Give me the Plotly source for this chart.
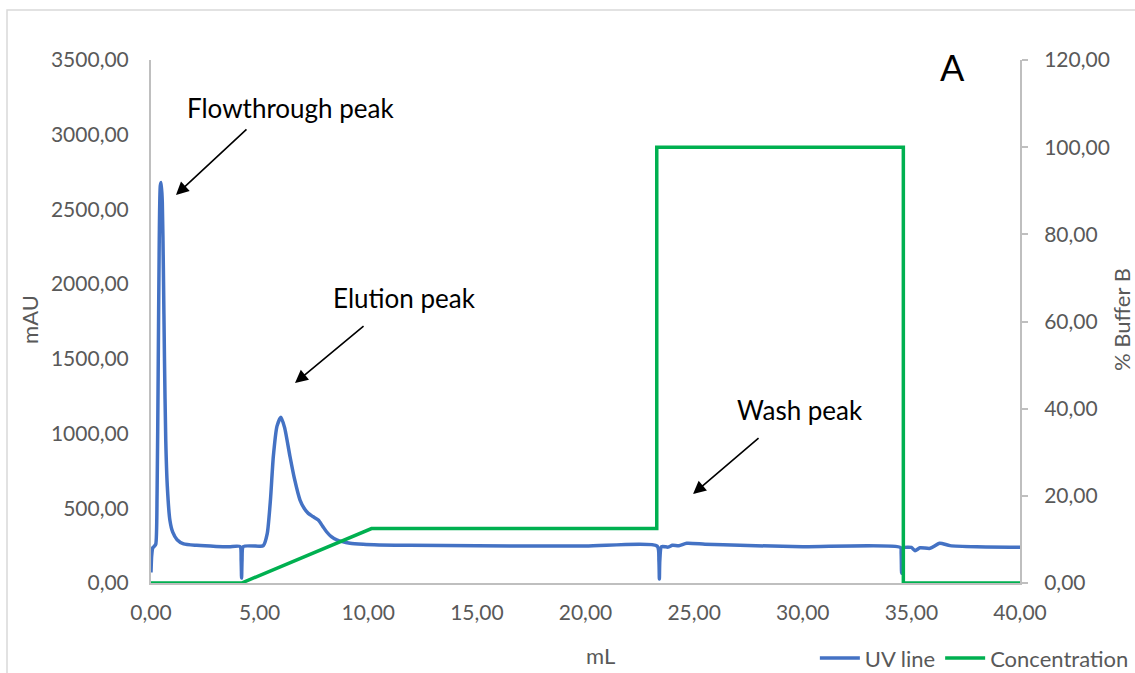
import plotly.graph_objects as go

# UV trace (mL, mAU)
uv_x = [0.0, 0.03, 0.08, 0.15, 0.22, 0.28, 0.33, 0.38, 0.43, 0.47, 0.52, 0.57, 0.62, 0.68, 0.75, 0.87,
        1.0, 1.2, 1.5, 2.1, 3.0, 3.6, 4.1, 4.15, 4.17, 4.19, 4.25, 5.0, 5.17, 5.35, 5.5, 5.63, 5.8,
        5.98, 6.15, 6.4, 6.6, 6.86, 7.05, 7.24, 7.45, 7.7, 7.9, 8.08, 8.3, 8.55, 9.16, 9.77, 10.5,
        11.9, 15.0, 20.0, 23.3, 23.38, 23.4, 23.42, 23.5, 23.8, 24.0, 24.3, 24.66, 25.5, 27.1, 30.0,
        34.5, 34.53, 34.55, 34.6, 34.65, 35.0, 35.17, 35.4, 35.86, 36.3, 36.78, 38.0, 40.0]
uv_y = [70, 180, 235, 245, 260, 600, 1400, 2300, 2660, 2680, 2550, 2100, 1500, 950, 650, 420,
        340, 290, 262, 252, 245, 243, 244, 150, 33, 150, 244, 246, 250, 330, 560, 845, 1050,
        1110, 1040, 845, 700, 555, 500, 466, 445, 421, 380, 343, 310, 288, 266, 259, 255,
        252, 249, 247, 247, 150, 27, 150, 244, 240, 252, 250, 266, 260, 252, 243,
        238, 200, 65, 200, 236, 238, 216, 236, 232, 266, 250, 242, 239]

# Concentration (% Buffer B)
conc_x = [0.0, 4.17, 10.15, 23.28, 23.28, 34.63, 34.63, 40.0]
conc_y = [0.0, 0.0, 12.5, 12.5, 100.0, 100.0, 0.0, 0.0]

FONT = "Lato"
GREY = "#595959"
AXL = "#BFBFBF"
TICK = 21
TITLE = 22

fig = go.Figure()
fig.add_trace(go.Scatter(x=uv_x, y=uv_y, mode="lines", name="UV line",
                         line=dict(color="#4472C4", width=3.5, shape="spline", smoothing=0.6)))
fig.add_trace(go.Scatter(x=conc_x, y=conc_y, mode="lines", name="Concentration", yaxis="y2",
                         line=dict(color="#00B050", width=3.5)))

fig.update_layout(
    width=1135, height=673,
    margin=dict(l=151, r=115, t=60, b=90, autoexpand=False),
    paper_bgcolor="white", plot_bgcolor="white",
    separators=", ",
    font=dict(family=FONT, size=TICK, color=GREY),
    showlegend=True,
    legend=dict(orientation="h", xref="container", yref="container", x=0.999, xanchor="right",
                y=0.022, yanchor="middle", font=dict(size=TITLE, color=GREY),
                bgcolor="rgba(0,0,0,0)", itemwidth=40, tracegroupgap=0),
    xaxis=dict(range=[0, 40], tickvals=[0, 5, 10, 15, 20, 25, 30, 35, 40], tickformat=".2f",
               showgrid=False, zeroline=False, showline=True, linecolor=AXL, linewidth=2,
               ticks="", tickfont=dict(size=TICK, color=GREY), automargin=False,
               ticklabelstandoff=10),
    yaxis=dict(range=[0, 3500], tickvals=[0, 500, 1000, 1500, 2000, 2500, 3000, 3500],
               tickformat=".2f", showgrid=False, zeroline=False, showline=True, linecolor=AXL,
               linewidth=2, ticks="", tickfont=dict(size=TICK, color=GREY), automargin=False,
               ticklabelstandoff=16),
    yaxis2=dict(range=[0, 120], tickvals=[0, 20, 40, 60, 80, 100, 120], tickformat=".2f",
                overlaying="y", side="right", showgrid=False, zeroline=False, showline=True,
                linecolor=AXL, linewidth=2, ticks="outside", ticklen=6, tickcolor=AXL,
                tickwidth=1.5, tickfont=dict(size=TICK, color=GREY), automargin=False,
                ticklabelstandoff=12),
)

fig.add_shape(type="rect", xref="paper", yref="paper", x0=-0.1657, y0=-0.2, x1=1.14, y1=1.0956,
              line=dict(color="#D9D9D9", width=1.5), layer="below")

# axis titles
fig.add_annotation(xref="paper", yref="paper", x=0.5167, y=-0.1377, text="mL", showarrow=False,
                   xanchor="center", yanchor="middle", font=dict(family=FONT, size=TITLE, color=GREY))
fig.add_annotation(xref="paper", yref="paper", x=-0.1392, y=0.503, text="mAU", showarrow=False,
                   xanchor="center", yanchor="middle", textangle=-90,
                   font=dict(family=FONT, size=TITLE, color=GREY))
fig.add_annotation(xref="paper", yref="paper", x=1.1174, y=0.503, text="% Buffer B", showarrow=False,
                   xanchor="center", yanchor="middle", textangle=-90,
                   font=dict(family=FONT, size=TITLE, color=GREY))

labels = [
    ("Flowthrough peak", 6.4, 3179, 26),
    ("Elution peak", 11.69, 1908, 26),
    ("Wash peak", 29.87, 1158, 26),
    ("A", 36.87, 3455, 36),
]
for txt, x, y, s in labels:
    fig.add_annotation(x=x, y=y, text=txt, showarrow=False, font=dict(family=FONT, size=s, color="black"))

arrows = [(1.15, 2597, 72, -67), (6.63, 1339, 70, -58), (24.95, 596, 67, -57)]
for x, y, ax, ay in arrows:
    fig.add_annotation(x=x, y=y, ax=ax, ay=ay, text="", showarrow=True, arrowhead=2,
                       arrowsize=1.6, arrowwidth=1.6, arrowcolor="black")

fig.write_html("out.html")
